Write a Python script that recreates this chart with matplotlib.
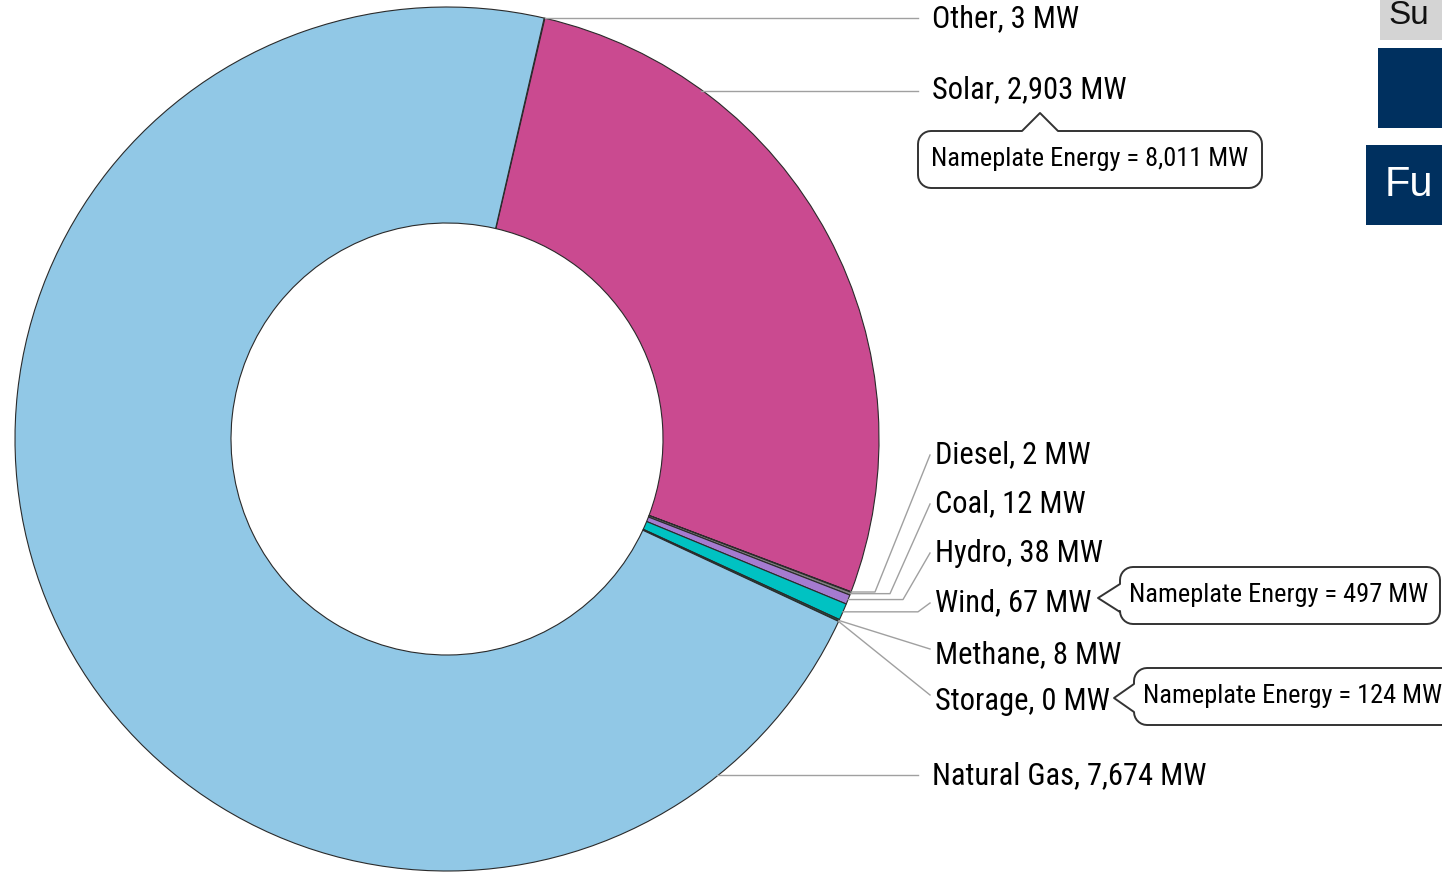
import numpy as np
import matplotlib
matplotlib.use("Agg")
import matplotlib.pyplot as plt
from matplotlib.patches import Polygon, Rectangle

# ---- data ----
categories = ["Other", "Solar", "Diesel", "Coal", "Hydro", "Wind", "Methane", "Storage", "Natural Gas"]
values_mw = [3, 2903, 2, 12, 38, 67, 8, 0, 7674]
slice_colors = ["#8a8a8a", "#ca4a90", "#3a3a3a", "#808080", "#a57bd0", "#00c2c2", "#1d5a48", "#333333", "#91c8e6"]
label_texts = ["Other, 3 MW", "Solar, 2,903 MW", "Diesel, 2 MW", "Coal, 12 MW", "Hydro, 38 MW",
               "Wind, 67 MW", "Methane, 8 MW", "Storage, 0 MW", "Natural Gas, 7,674 MW"]
callouts = ["Nameplate Energy = 8,011 MW", "Nameplate Energy = 497 MW", "Nameplate Energy = 124 MW"]

FONT = ["Roboto Condensed", "DejaVu Sans"]
plt.rcParams["font.family"] = FONT

W, H = 1442, 872
fig = plt.figure(figsize=(W / 100, H / 100), dpi=100)
ax = fig.add_axes([0, 0, 1, 1])

cx, cy, R, ring = 447, 439, 432, 216
wedges, _ = ax.pie(values_mw, colors=slice_colors, center=(cx, cy), radius=R,
                   startangle=-77, counterclock=True,
                   wedgeprops=dict(width=ring, edgecolor="#2a2a2a", linewidth=0.8))
ax.set_xlim(0, W)
ax.set_ylim(H, 0)
ax.set_aspect("equal")
ax.axis("off")

LC = "#a0a0a0"
TS = 22
BS = 19

def outer_pt(w, frac=0.5):
    th = np.deg2rad(w.theta1 + (w.theta2 - w.theta1) * frac)
    return cx + R * np.cos(th), cy + R * np.sin(th)

def circle_x(y):
    return cx + np.sqrt(max(R ** 2 - (y - cy) ** 2, 0))

ox, oy = outer_pt(wedges[0])
ax.plot([ox, 918], [oy, oy], color=LC, lw=1)
ax.text(932, oy, label_texts[0], fontsize=TS, va="center", ha="left")

for idx, ly, dy in [(1, 91, -1), (8, 775, 1)]:
    ax.plot([circle_x(ly) - 2, 918], [ly, ly], color=LC, lw=1)
    ax.text(932, ly + dy, label_texts[idx], fontsize=TS, va="center", ha="left")

# Small slices with elbow leaders
small = [(2, 453, 875), (3, 502, 890), (4, 551, 903), (5, 601, 918)]
for idx, ly, ex in small:
    px, py = outer_pt(wedges[idx])
    ax.plot([px, ex, 930], [py, py, ly + 2], color=LC, lw=1)
    ax.text(935, ly + 2, label_texts[idx], fontsize=TS, va="center", ha="left")

for idx, ly in [(6, 653), (7, 699)]:
    px, py = outer_pt(wedges[idx])
    ax.plot([px, 930], [py, ly - 4], color=LC, lw=1)
    ax.text(935, ly + 2, label_texts[idx], fontsize=TS, va="center", ha="left")

# Callout boxes
def rounded_pts(x0, y0, x1, y1, r, n=8):
    pts = []
    corners = [(x1 - r, y0 + r, -90, 0), (x1 - r, y1 - r, 0, 90),
               (x0 + r, y1 - r, 90, 180), (x0 + r, y0 + r, 180, 270)]
    for ccx, ccy, a0, a1 in corners:
        for a in np.linspace(a0, a1, n):
            t = np.deg2rad(a)
            pts.append((ccx + r * np.cos(t), ccy + r * np.sin(t)))
    return pts

def box_top_pointer(x0, y0, x1, y1, tipx, tipy, half, r=13):
    pts = rounded_pts(x0, y0, x1, y1, r)
    return pts + [(tipx - half, y0), (tipx, tipy), (tipx + half, y0)]

def box_left_pointer(x0, y0, x1, y1, tipx, tipy, half, r=13):
    pts = rounded_pts(x0, y0, x1, y1, r)
    bl = pts[:24]
    tl = pts[24:]
    return bl + [(x0, tipy + half), (tipx, tipy), (x0, tipy - half)] + tl

p1 = Polygon(box_top_pointer(918, 131, 1262, 188, 1040, 113, 18), closed=True,
             facecolor="white", edgecolor="#333333", lw=1.4, joinstyle="round")
ax.add_patch(p1)
ax.text(1090, 159, callouts[0], fontsize=BS, va="center", ha="center")

p2 = Polygon(box_left_pointer(1120, 567, 1440, 624, 1098, 598, 14), closed=True,
             facecolor="white", edgecolor="#333333", lw=1.4, joinstyle="round")
ax.add_patch(p2)
ax.text(1279, 595, callouts[1], fontsize=BS, va="center", ha="center")

p3 = Polygon(box_left_pointer(1134, 668, 1460, 725, 1114, 698, 14), closed=True,
             facecolor="white", edgecolor="#333333", lw=1.4, joinstyle="round")
ax.add_patch(p3)
ax.text(1143, 696, callouts[2], fontsize=BS, va="center", ha="left")

# Partial UI elements on the right edge
ax.add_patch(Rectangle((1380, -2), 70, 42, facecolor="#d4d4d4", edgecolor="none"))
ax.text(1388, 15, "Su", fontsize=24, va="center", ha="left", family=["Liberation Sans", "DejaVu Sans"], color="#111111")
ax.add_patch(Rectangle((1378, 48), 70, 80, facecolor="#00305f", edgecolor="none"))
ax.add_patch(Rectangle((1366, 145), 80, 80, facecolor="#00305f", edgecolor="none"))
ax.text(1385, 185, "Fu", fontsize=30, va="center", ha="left", family=["Liberation Sans", "DejaVu Sans"], color="white")

fig.savefig("out.png", dpi=100)
